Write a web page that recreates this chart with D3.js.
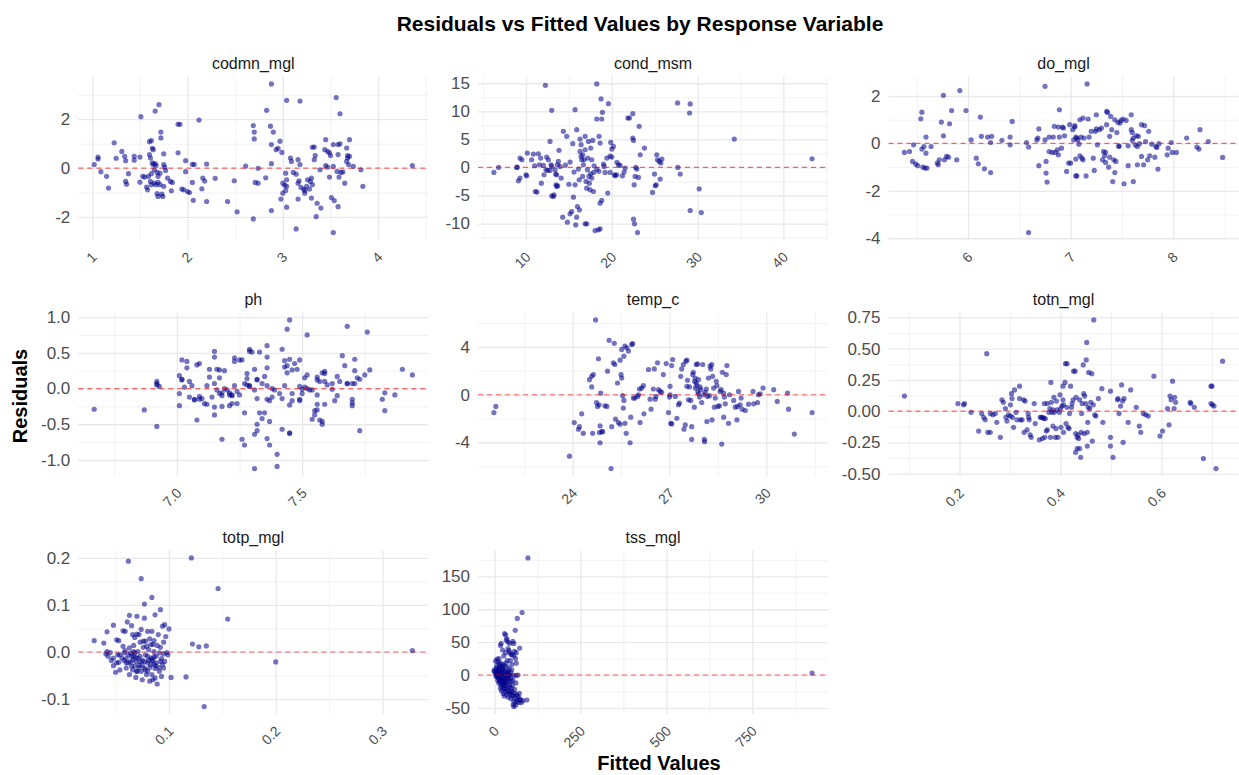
<!DOCTYPE html>
<meta charset="utf-8">
<style>

body {
  margin: 0;
  background: #fff;
}

text {
  font-family: "Liberation Sans", Arial, Helvetica, sans-serif;
}

.grid line {
  stroke: #e9e9e9;
  stroke-width: 1.3;
}

.grid.minor line {
  stroke: #efefef;
  stroke-width: 0.8;
}

.grid path,
.axis path,
.axis line {
  display: none;
}

.axis text {
  fill: #4d4d4d;
}

</style>

<body>

<script src="https://d3js.org/d3.v7.min.js"></script>

<script>

// residuals vs fitted, one [fitted, residual] pair per sample

var codmn_mgl = [[1.02,0.14],[1.06,0.37],[1.06,0.45],[1.09,-0.15],[1.15,-0.34],[1.17,-0.82],[1.23,1.03],[1.25,0.40],[1.31,0.68],[1.34,0.48],[1.35,0.30],[1.38,-0.23],[1.35,-0.55],[1.36,-0.66],[1.44,0.48],[1.44,0.32],[1.50,0.45],[1.51,2.10],[1.50,-0.58],[1.53,-0.34],[1.55,-0.37],[1.57,-0.78],[1.58,-0.89],[1.60,1.08],[1.62,1.12],[1.66,2.33],[1.70,2.59],[1.72,1.47],[1.72,1.23],[1.63,0.81],[1.64,0.75],[1.75,0.58],[1.60,0.55],[1.61,0.41],[1.63,0.21],[1.64,0.14],[1.66,0.18],[1.67,0.10],[1.65,-0.07],[1.68,-0.18],[1.62,-0.23],[1.59,-0.34],[1.69,-0.34],[1.71,-0.21],[1.75,0.14],[1.76,0.04],[1.77,-0.10],[1.61,-0.55],[1.62,-0.68],[1.65,-0.62],[1.67,-0.68],[1.69,-0.59],[1.71,-0.68],[1.75,-0.75],[1.68,-1.05],[1.69,-1.16],[1.73,-1.07],[1.74,-1.16],[1.79,-0.41],[1.82,-0.55],[1.84,-0.59],[1.83,-0.93],[1.90,1.79],[1.92,1.79],[1.90,0.62],[1.94,-0.86],[1.96,-0.89],[2.00,-0.96],[2.02,-1.00],[1.98,0.30],[1.98,-0.15],[2.05,-0.59],[2.05,0.15],[2.07,0.14],[2.06,-1.32],[2.12,1.96],[2.16,-0.41],[2.18,-0.53],[2.15,-0.85],[2.20,-1.37],[2.20,0.16],[2.29,-0.42],[2.42,-1.37],[2.49,-0.52],[2.52,-1.79],[2.61,0.08],[2.69,1.74],[2.70,1.47],[2.70,1.19],[2.69,-2.08],[2.71,-0.59],[2.74,-0.62],[2.74,-0.01],[2.83,2.36],[2.88,3.44],[2.87,1.71],[2.90,1.47],[2.88,0.96],[2.88,0.18],[2.88,-1.74],[2.82,-0.40],[2.93,0.75],[2.95,0.81],[2.97,1.10],[2.99,0.64],[3.04,2.77],[2.98,-1.27],[3.00,-1.03],[3.00,-0.62],[3.02,-0.70],[3.03,-0.92],[3.04,-0.75],[3.03,-0.21],[3.04,-0.48],[3.04,-1.60],[3.08,0.41],[3.09,0.27],[3.11,-0.18],[3.14,-0.25],[3.14,-2.49],[3.16,0.34],[3.18,0.14],[3.17,-0.52],[3.16,-0.62],[3.18,2.74],[3.16,-1.27],[3.19,-0.79],[3.22,-0.86],[3.23,-0.92],[3.23,-1.03],[3.25,-0.75],[3.26,-0.48],[3.30,-0.41],[3.29,-0.55],[3.31,-0.68],[3.28,-0.86],[3.31,0.85],[3.33,0.86],[3.33,0.34],[3.34,0.51],[3.30,-1.23],[3.36,-1.44],[3.35,-1.99],[3.40,-1.64],[3.39,-0.07],[3.44,0.75],[3.45,1.16],[3.47,0.68],[3.49,0.62],[3.50,0.51],[3.45,0.10],[3.47,0.04],[3.49,-0.37],[3.53,0.07],[3.51,-1.21],[3.54,-1.33],[3.58,-1.58],[3.53,-2.64],[3.56,2.88],[3.60,2.22],[3.58,0.96],[3.60,0.99],[3.53,0.96],[3.58,0.55],[3.57,-0.14],[3.59,-0.37],[3.61,-0.18],[3.63,-0.16],[3.65,-0.62],[3.67,0.82],[3.68,0.51],[3.68,0.41],[3.70,0.48],[3.67,0.27],[3.69,0.14],[3.70,1.16],[3.74,0.07],[3.82,-0.07],[3.84,-0.75],[4.36,0.10]]

var cond_msm = [[6.26,-0.89],[6.81,0.0],[8.91,0.0],[8.98,0.05],[9.11,-2.38],[9.30,-1.90],[9.30,1.67],[9.53,1.37],[10.0,-1.31],[10.08,-1.49],[10.16,2.56],[10.66,1.37],[10.86,2.38],[11.09,-4.29],[11.28,-4.40],[11.44,2.44],[11.56,0.48],[11.71,1.67],[11.79,-2.80],[12.02,0.36],[12.10,-1.31],[12.26,14.64],[12.41,1.85],[12.53,-0.54],[12.61,1.37],[12.80,4.64],[12.92,0.48],[13.00,10.18],[13.00,-5.06],[13.19,-5.18],[13.27,-4.88],[13.39,-0.42],[13.46,-1.19],[13.58,-1.31],[13.50,-3.10],[13.58,-3.39],[13.70,-3.27],[13.66,0.48],[13.77,1.07],[13.85,3.04],[13.97,0.18],[13.00,0.18],[12.80,-0.54],[12.33,-0.42],[14.36,6.43],[14.75,5.54],[14.82,-9.76],[14.28,-8.87],[15.14,-8.27],[15.14,0.95],[15.33,-7.86],[15.45,4.23],[15.53,-5.30],[15.60,-0.83],[15.72,-3.10],[15.72,10.30],[15.91,6.73],[16.0,-6.96],[15.91,-8.87],[15.80,-10.24],[16.11,-0.30],[16.23,-7.56],[16.30,5.06],[16.42,4.05],[16.30,2.86],[16.42,1.96],[16.50,1.37],[16.61,2.26],[16.69,0.48],[16.77,1.37],[16.89,5.54],[16.89,3.15],[16.89,-10.06],[17.08,-10.06],[17.00,-2.50],[17.08,-3.69],[17.16,-0.42],[17.20,1.67],[17.28,4.64],[17.35,-1.61],[17.39,-2.80],[17.47,-3.99],[17.55,3.45],[17.55,-1.13],[17.67,-1.90],[17.67,1.37],[17.78,4.82],[17.86,-4.29],[17.94,0.30],[18.05,-11.25],[18.25,-0.30],[18.25,8.63],[18.25,14.88],[18.44,-11.13],[18.52,5.54],[18.64,-10.95],[18.64,4.35],[18.75,12.20],[18.83,8.63],[18.64,-6.37],[18.83,-5.89],[18.91,9.82],[19.03,0.60],[19.11,0.18],[19.22,-0.89],[19.42,1.67],[19.53,-4.58],[19.61,11.37],[19.81,-0.89],[19.88,4.46],[20.0,1.85],[20.0,3.27],[20.19,3.75],[20.31,-1.31],[20.39,-1.49],[20.58,-1.31],[20.78,0.48],[20.97,0.36],[21.24,-1.49],[21.44,-0.83],[21.56,-0.12],[21.87,8.81],[22.06,8.81],[22.45,9.58],[22.45,5.24],[22.53,4.82],[22.53,-9.23],[22.61,-3.10],[22.65,-10.06],[22.72,-1.61],[22.80,0.0],[22.92,-0.30],[23.00,-11.61],[23.11,-1.79],[23.19,7.32],[23.31,2.26],[23.81,3.45],[24.75,-4.46],[24.98,-1.19],[25.06,-3.27],[25.18,-3.10],[25.25,2.26],[25.33,1.37],[25.53,1.07],[25.64,-2.08],[25.72,0.77],[25.84,1.49],[27.67,11.49],[27.70,0.0],[27.98,-1.19],[29.07,9.70],[29.14,11.31],[29.14,-7.68],[30.19,-3.81],[30.43,-8.04],[34.28,5.06],[43.35,1.55],[14.1,-1.9],[16.2,-2.2],[17.9,-0.9],[18.5,-0.7],[19.8,2.0],[20.6,0.9],[16.6,-1.6],[15.0,-3.0],[14.6,0.4],[11.0,0.3]]

var do_mgl = [[5.38,-0.38],[5.43,-0.34],[5.47,-0.06],[5.46,-0.76],[5.49,-0.87],[5.51,-0.94],[5.55,1.32],[5.54,1.04],[5.55,-0.24],[5.56,-1.00],[5.57,-0.13],[5.58,-1.04],[5.59,0.27],[5.60,-1.04],[5.59,-0.41],[5.64,-0.13],[5.70,-0.83],[5.71,-0.90],[5.72,-0.69],[5.74,0.90],[5.76,0.32],[5.76,2.03],[5.77,-0.69],[5.79,-0.55],[5.81,-0.58],[5.82,0.83],[5.84,1.39],[5.89,-0.69],[5.92,2.23],[5.98,1.39],[6.03,0.15],[6.08,-0.62],[6.10,-0.86],[6.12,1.11],[6.13,0.30],[6.16,-1.07],[6.19,0.27],[6.22,-1.23],[6.22,0.04],[6.23,0.30],[6.33,0.13],[6.41,-0.06],[6.41,0.27],[6.43,0.93],[6.57,0.04],[6.59,-0.15],[6.59,-3.76],[6.67,0.15],[6.68,0.23],[6.69,0.61],[6.69,-0.94],[6.75,2.41],[6.75,0.15],[6.76,-0.76],[6.76,-1.25],[6.77,-1.63],[6.79,0.27],[6.79,-0.34],[6.82,-0.38],[6.83,0.27],[6.84,0.72],[6.85,-0.38],[6.87,-0.27],[6.88,0.69],[6.88,-0.48],[6.89,1.42],[6.89,0.27],[6.91,-0.20],[6.92,0.69],[6.93,0.65],[6.94,0.32],[6.96,-1.18],[6.98,-0.83],[6.99,0.79],[7.00,-0.83],[7.02,0.58],[7.03,0.15],[7.04,0.75],[7.04,0.69],[7.05,0.27],[7.05,-0.66],[7.05,-1.37],[7.06,-1.37],[7.06,0.23],[7.07,0.15],[7.08,-0.03],[7.09,1.00],[7.09,-0.52],[7.10,0.27],[7.11,-0.62],[7.12,-0.69],[7.12,1.07],[7.13,0.23],[7.15,-1.37],[7.16,2.51],[7.17,1.03],[7.18,0.27],[7.20,0.51],[7.22,-0.62],[7.23,-1.14],[7.24,0.51],[7.25,1.21],[7.25,0.61],[7.26,-0.06],[7.28,0.58],[7.30,0.65],[7.31,-0.69],[7.32,-0.34],[7.33,-0.52],[7.34,-0.38],[7.34,-0.80],[7.35,1.35],[7.35,0.79],[7.36,1.31],[7.37,-1.00],[7.38,0.30],[7.38,-0.58],[7.39,1.14],[7.40,0.58],[7.41,-1.61],[7.42,-0.69],[7.43,1.00],[7.43,-1.23],[7.44,-0.76],[7.45,0.46],[7.46,0.89],[7.47,-0.13],[7.47,-0.10],[7.48,0.86],[7.49,0.97],[7.51,1.03],[7.52,-1.70],[7.54,0.97],[7.56,-0.94],[7.56,-0.10],[7.59,1.21],[7.59,0.58],[7.60,0.46],[7.60,0.13],[7.61,-1.61],[7.61,0.23],[7.63,-0.06],[7.64,0.32],[7.65,-0.13],[7.65,-0.90],[7.66,0.30],[7.67,-0.01],[7.69,0.79],[7.69,-0.55],[7.71,-0.90],[7.72,0.75],[7.73,0.08],[7.75,-0.69],[7.76,0.51],[7.77,-0.52],[7.79,-0.03],[7.82,-0.58],[7.83,-0.13],[7.84,-0.17],[7.85,-1.08],[7.86,-0.01],[7.94,-0.48],[7.95,-0.20],[7.98,0.04],[7.99,-0.38],[8.03,-0.38],[8.13,0.23],[8.23,-0.15],[8.25,-0.24],[8.26,0.58],[8.34,0.08],[8.48,-0.59]]

var ph = [[6.67,-0.29],[6.87,-0.30],[6.92,-0.53],[6.92,0.10],[6.92,0.07],[6.93,0.03],[6.92,0.05],[7.01,-0.07],[7.01,-0.24],[7.01,0.18],[7.02,0.13],[7.02,0.40],[7.02,0.12],[7.03,0.02],[7.04,0.38],[7.04,0.29],[7.05,0.10],[7.05,-0.12],[7.06,0.04],[7.07,-0.16],[7.07,-0.15],[7.08,0.33],[7.08,-0.44],[7.09,-0.15],[7.09,0.35],[7.09,-0.11],[7.10,-0.14],[7.11,-0.21],[7.12,0.04],[7.12,-0.22],[7.13,0.27],[7.13,0.16],[7.14,-0.12],[7.15,0.44],[7.15,-0.37],[7.15,-0.26],[7.15,0.52],[7.15,0.07],[7.16,-0.02],[7.16,0.27],[7.17,0.15],[7.17,0.26],[7.17,-0.07],[7.18,-0.10],[7.18,-0.06],[7.18,-0.71],[7.18,-0.25],[7.19,0.25],[7.19,0.00],[7.20,-0.02],[7.21,-0.09],[7.21,-0.24],[7.21,-0.06],[7.22,-0.09],[7.22,-0.10],[7.22,-0.21],[7.23,0.43],[7.23,0.38],[7.23,0.04],[7.24,-0.21],[7.24,-0.04],[7.25,-0.09],[7.25,0.40],[7.26,0.40],[7.26,-0.71],[7.27,-0.34],[7.27,-0.79],[7.27,0.07],[7.28,0.05],[7.28,0.21],[7.28,0.14],[7.29,0.04],[7.29,0.55],[7.29,0.03],[7.29,0.52],[7.30,0.51],[7.31,-0.64],[7.31,-1.12],[7.31,0.27],[7.31,-0.02],[7.32,0.12],[7.32,-0.59],[7.32,-0.14],[7.32,-0.50],[7.32,0.13],[7.33,0.51],[7.33,-0.34],[7.34,0.07],[7.34,-0.42],[7.35,0.17],[7.35,-0.34],[7.36,0.44],[7.36,0.04],[7.36,0.60],[7.36,0.29],[7.36,-0.70],[7.36,-0.15],[7.37,-0.17],[7.37,-0.46],[7.37,-0.79],[7.38,0.00],[7.38,-0.12],[7.39,-0.02],[7.40,-0.92],[7.40,-1.09],[7.41,-0.07],[7.42,0.55],[7.42,-0.57],[7.42,-0.14],[7.43,0.04],[7.43,0.30],[7.43,0.39],[7.44,0.22],[7.44,0.83],[7.44,0.32],[7.45,-0.23],[7.45,-0.62],[7.45,0.41],[7.45,-0.63],[7.45,0.96],[7.46,-0.07],[7.46,0.26],[7.46,-0.17],[7.47,0.35],[7.48,0.27],[7.49,-0.15],[7.49,0.03],[7.49,0.40],[7.49,-0.17],[7.50,-0.01],[7.50,-0.07],[7.51,0.15],[7.51,0.02],[7.52,0.75],[7.52,0.00],[7.52,0.19],[7.53,-0.02],[7.54,-0.43],[7.54,-0.02],[7.55,-0.37],[7.55,-0.31],[7.56,-0.09],[7.56,0.16],[7.56,0.12],[7.56,-0.22],[7.56,-0.30],[7.57,-0.44],[7.57,0.10],[7.58,-0.46],[7.58,-0.50],[7.58,0.22],[7.59,0.21],[7.59,0.24],[7.59,-0.22],[7.59,0.10],[7.60,0.05],[7.62,-0.01],[7.62,0.07],[7.63,-0.17],[7.64,0.17],[7.64,-0.10],[7.65,0.10],[7.66,0.46],[7.67,0.32],[7.68,0.07],[7.68,0.07],[7.68,0.87],[7.70,-0.15],[7.70,-0.24],[7.70,-0.20],[7.70,0.07],[7.71,0.07],[7.71,0.25],[7.71,0.41],[7.72,0.15],[7.73,-0.59],[7.73,0.13],[7.75,0.19],[7.76,0.79],[7.77,0.26],[7.82,-0.15],[7.83,-0.31],[7.83,-0.06],[7.87,-0.09],[7.90,0.27],[7.94,0.19]]

var temp_c = [[21.56,-1.49],[21.62,-0.98],[23.90,-5.14],[24.05,-2.33],[24.18,-2.89],[24.21,-2.67],[24.28,-1.60],[24.33,-3.23],[24.52,1.26],[24.59,1.54],[24.59,0.65],[24.62,-3.23],[24.64,1.69],[24.71,6.26],[24.74,-0.65],[24.77,-0.98],[24.80,3.01],[24.82,-0.84],[24.83,-3.17],[24.85,-4.02],[24.85,-2.61],[24.87,0.14],[24.90,-3.09],[24.93,-3.09],[25.00,-0.93],[25.06,-0.98],[25.08,1.97],[25.13,4.55],[25.19,-6.18],[25.21,-2.67],[25.26,2.67],[25.29,4.30],[25.31,2.53],[25.33,-2.05],[25.39,0.98],[25.42,-2.33],[25.47,2.89],[25.47,-2.47],[25.50,1.69],[25.52,1.40],[25.52,3.79],[25.55,-0.08],[25.57,-1.12],[25.59,3.23],[25.59,-0.48],[25.62,4.07],[25.62,-2.39],[25.66,-3.23],[25.68,3.93],[25.73,3.65],[25.78,-4.02],[25.80,-1.88],[25.83,4.21],[25.86,4.27],[25.88,-0.28],[25.93,-0.28],[26.01,-0.14],[26.04,0.00],[26.07,0.48],[26.09,-2.33],[26.14,0.56],[26.19,0.76],[26.21,-1.60],[26.35,2.11],[26.40,-0.37],[26.43,-1.21],[26.50,0.48],[26.53,2.16],[26.56,-0.37],[26.58,-0.14],[26.63,2.67],[26.66,0.42],[26.71,0.28],[26.76,0.20],[26.81,1.69],[26.90,2.61],[26.97,-1.49],[27.00,-0.20],[27.02,0.00],[27.02,0.70],[27.04,-2.39],[27.07,-2.44],[27.07,2.44],[27.10,2.95],[27.18,-0.14],[27.23,-1.97],[27.28,-0.84],[27.31,-0.70],[27.35,1.54],[27.38,2.16],[27.43,2.53],[27.45,-2.89],[27.49,-2.53],[27.51,2.81],[27.54,2.89],[27.54,0.70],[27.56,1.21],[27.59,-0.42],[27.62,0.65],[27.66,-0.48],[27.69,-3.74],[27.69,-2.67],[27.72,1.69],[27.74,1.88],[27.77,-1.04],[27.78,1.12],[27.80,0.56],[27.80,1.40],[27.83,0.98],[27.83,2.53],[27.85,0.76],[27.87,2.58],[27.88,0.28],[27.90,0.08],[27.90,1.26],[27.93,-0.20],[27.95,0.65],[27.97,0.42],[28.00,-0.65],[28.03,2.53],[28.06,0.00],[28.08,-3.74],[28.09,-3.93],[28.11,0.20],[28.14,0.48],[28.16,-2.25],[28.18,-0.14],[28.21,1.40],[28.24,-0.08],[28.26,2.39],[28.28,2.16],[28.31,2.53],[28.32,-2.11],[28.34,1.54],[28.37,0.56],[28.39,-1.04],[28.42,-0.28],[28.45,1.12],[28.47,0.76],[28.50,-0.98],[28.55,-0.93],[28.57,0.28],[28.60,0.42],[28.62,-4.13],[28.64,1.88],[28.68,0.14],[28.68,-1.88],[28.70,-0.20],[28.73,-0.76],[28.76,1.69],[28.78,2.44],[28.83,-2.39],[28.86,0.00],[28.99,-0.48],[29.04,-1.04],[29.09,-2.11],[29.11,-0.98],[29.14,0.28],[29.19,-0.84],[29.22,-0.28],[29.25,-1.21],[29.35,-1.32],[29.45,-0.79],[29.59,0.28],[29.61,-0.76],[29.73,-0.65],[29.76,0.00],[29.81,0.08],[29.90,0.56],[30.23,0.42],[30.34,-0.56],[30.66,0.14],[30.69,-1.21],[30.87,-3.29],[31.42,-1.49]]

var totn_mgl = [[0.091,0.12],[0.197,0.06],[0.208,0.05],[0.210,0.06],[0.223,-0.01],[0.238,-0.16],[0.244,-0.02],[0.248,-0.05],[0.251,-0.07],[0.254,0.46],[0.256,-0.17],[0.261,-0.17],[0.261,-0.02],[0.266,-0.03],[0.271,-0.02],[0.274,-0.09],[0.281,-0.21],[0.284,0.09],[0.287,0.07],[0.291,0.02],[0.292,-0.05],[0.294,-0.08],[0.297,-0.03],[0.301,0.05],[0.301,-0.04],[0.303,0.14],[0.304,0.10],[0.305,-0.05],[0.307,-0.13],[0.309,0.17],[0.312,-0.01],[0.314,-0.07],[0.319,0.20],[0.319,0.10],[0.321,-0.07],[0.324,-0.07],[0.327,0.09],[0.328,-0.17],[0.330,0.08],[0.334,-0.15],[0.336,-0.02],[0.337,-0.05],[0.338,-0.07],[0.340,-0.19],[0.342,-0.21],[0.348,0.06],[0.350,-0.10],[0.358,-0.23],[0.360,-0.05],[0.362,-0.05],[0.364,-0.22],[0.365,-0.05],[0.367,-0.06],[0.368,0.06],[0.369,-0.21],[0.370,-0.06],[0.372,-0.16],[0.374,0.06],[0.374,-0.15],[0.377,-0.01],[0.379,0.02],[0.380,-0.21],[0.381,0.23],[0.382,0.07],[0.383,-0.01],[0.385,0.01],[0.385,-0.12],[0.387,0.11],[0.388,-0.01],[0.390,-0.21],[0.391,-0.14],[0.392,0.08],[0.393,0.01],[0.395,-0.21],[0.398,-0.01],[0.399,0.13],[0.400,0.02],[0.401,-0.13],[0.403,0.04],[0.405,0.20],[0.405,0.09],[0.406,0.05],[0.406,-0.17],[0.409,0.23],[0.410,0.38],[0.411,-0.10],[0.413,0.38],[0.413,0.03],[0.415,-0.13],[0.417,-0.14],[0.418,-0.02],[0.420,0.20],[0.422,0.03],[0.423,0.06],[0.425,0.09],[0.426,0.32],[0.429,0.32],[0.430,-0.18],[0.430,-0.33],[0.431,0.11],[0.433,-0.21],[0.433,-0.30],[0.435,-0.19],[0.436,-0.22],[0.438,0.09],[0.438,-0.30],[0.440,-0.37],[0.441,-0.17],[0.442,-0.02],[0.443,0.06],[0.445,0.37],[0.446,0.14],[0.447,-0.18],[0.448,0.12],[0.450,0.06],[0.451,0.41],[0.452,0.55],[0.453,-0.17],[0.453,-0.28],[0.454,-0.09],[0.455,0.03],[0.456,0.31],[0.458,0.02],[0.460,0.07],[0.462,0.30],[0.463,-0.24],[0.465,0.05],[0.466,0.73],[0.468,-0.03],[0.470,-0.04],[0.475,0.10],[0.482,0.18],[0.484,-0.09],[0.499,-0.21],[0.499,0.16],[0.499,-0.28],[0.504,-0.37],[0.513,0.09],[0.514,0.10],[0.516,-0.02],[0.519,0.04],[0.521,0.21],[0.523,0.08],[0.524,-0.25],[0.526,0.10],[0.534,-0.09],[0.539,0.17],[0.550,0.03],[0.556,-0.12],[0.559,-0.17],[0.564,-0.02],[0.569,-0.03],[0.574,-0.04],[0.585,0.28],[0.597,-0.20],[0.602,-0.16],[0.612,0.02],[0.615,-0.11],[0.617,0.12],[0.619,0.09],[0.622,0.24],[0.625,0.02],[0.626,0.11],[0.628,0.07],[0.657,0.07],[0.658,0.06],[0.665,0.03],[0.683,-0.38],[0.698,0.20],[0.700,0.20],[0.698,0.06],[0.701,0.05],[0.704,0.04],[0.708,-0.46],[0.721,0.40]]

var totp_mgl = [[0.030,0.024],[0.039,0.019],[0.042,0.043],[0.041,-0.004],[0.042,0.001],[0.043,-0.009],[0.046,-0.018],[0.048,-0.029],[0.048,0.057],[0.050,-0.043],[0.051,0.026],[0.052,-0.006],[0.053,0.024],[0.053,-0.022],[0.054,-0.038],[0.056,-0.013],[0.057,0.012],[0.057,0.045],[0.058,-0.018],[0.059,0.003],[0.060,-0.034],[0.060,-0.014],[0.061,0.064],[0.062,0.193],[0.062,-0.023],[0.063,0.078],[0.063,-0.048],[0.064,-0.002],[0.064,-0.021],[0.065,0.056],[0.066,-0.038],[0.067,0.014],[0.067,-0.009],[0.068,-0.030],[0.068,0.031],[0.069,-0.054],[0.069,-0.020],[0.070,0.076],[0.070,0.038],[0.070,-0.041],[0.071,0.001],[0.072,-0.028],[0.073,0.021],[0.073,-0.009],[0.074,0.156],[0.074,0.048],[0.075,-0.059],[0.075,-0.018],[0.076,0.010],[0.077,-0.034],[0.077,0.102],[0.077,0.072],[0.078,-0.006],[0.078,0.023],[0.079,-0.048],[0.080,0.044],[0.080,-0.023],[0.081,0.005],[0.082,-0.062],[0.082,-0.033],[0.083,0.016],[0.083,-0.013],[0.084,0.116],[0.084,0.044],[0.085,-0.059],[0.085,-0.018],[0.086,0.001],[0.086,0.024],[0.087,-0.035],[0.087,0.079],[0.088,-0.023],[0.088,-0.009],[0.089,-0.068],[0.089,0.014],[0.090,0.037],[0.091,-0.041],[0.091,-0.002],[0.092,-0.020],[0.092,0.090],[0.093,-0.052],[0.093,-0.014],[0.094,0.055],[0.095,-0.004],[0.095,-0.034],[0.096,0.058],[0.097,0.033],[0.098,-0.001],[0.099,-0.006],[0.100,0.049],[0.102,-0.054],[0.116,-0.053],[0.121,0.200],[0.122,0.017],[0.128,0.011],[0.133,-0.116],[0.135,0.013],[0.146,0.135],[0.155,0.070],[0.200,-0.021],[0.328,0.003],[0.054,-0.006],[0.058,-0.002],[0.062,-0.006],[0.065,-0.009],[0.068,-0.002],[0.071,-0.013],[0.073,-0.020],[0.077,-0.020],[0.080,-0.009],[0.084,-0.016],[0.086,-0.026],[0.088,-0.030],[0.079,0.012],[0.076,0.023],[0.067,0.001],[0.063,0.009],[0.060,-0.023],[0.065,-0.030],[0.070,-0.041],[0.074,-0.041],[0.080,-0.041],[0.084,-0.048],[0.087,-0.055],[0.091,-0.033],[0.094,-0.026],[0.096,-0.020],[0.051,-0.023],[0.048,-0.013],[0.045,-0.001],[0.059,0.044],[0.066,0.037],[0.072,0.037],[0.082,0.028],[0.085,0.016],[0.092,0.010],[0.095,0.021],[0.069,-0.012],[0.075,-0.028],[0.081,-0.018],[0.083,-0.027],[0.066,-0.017],[0.072,-0.033],[0.078,-0.038],[0.086,-0.010]]

var tss_mgl = [[97,178],[80,95],[66,86],[60,68],[39,50],[44,48],[29,63],[32,61],[19,48],[17,45],[36,55],[34,53],[53,51],[56,48],[73,41],[58,36],[63,34],[39,40],[42,37],[44,34],[48,31],[32,34],[51,31],[56,29],[61,25],[63,18],[7,24],[13,25],[3,21],[10,20],[18,18],[24,16],[28,14],[35,12],[42,10],[50,8],[22,10],[15,12],[5,10],[0,8],[-2,6],[2,4],[8,6],[12,3],[16,5],[20,2],[25,4],[30,1],[38,2],[45,0],[55,0],[62,-1],[68,0],[4,-2],[9,-4],[14,-1],[19,-6],[24,-3],[28,-8],[33,-5],[38,-10],[42,-7],[12,-12],[18,-15],[22,-18],[26,-14],[30,-20],[35,-22],[40,-18],[45,-25],[50,-20],[15,-8],[20,-24],[25,-28],[28,-32],[32,-26],[36,-30],[40,-34],[44,-29],[48,-36],[52,-32],[56,-40],[60,-35],[54,-45],[56,-48],[61,-46],[66,-38],[70,-42],[73,-36],[78,-42],[82,-39],[94,-38],[65,-30],[72,-28],[58,-22],[52,-15],[48,-10],[62,-12],[10,-2],[6,0],[22,0],[30,6],[40,5],[46,4],[35,-2],[27,-10],[17,-20],[24,-12],[31,-16],[38,-25],[43,-14],[6,14],[11,9],[14,16],[20,13],[26,8],[33,18],[37,22],[27,29],[23,38],[46,22],[50,16],[9,-8],[13,-5],[17,-11],[21,-9],[26,-21],[29,-15],[34,-12],[39,-4],[44,-19],[47,-27],[51,-26],[55,-31],[59,-28],[63,-41],[68,-33],[76,-38],[3,2],[7,-1],[11,6],[16,-3],[21,7],[26,-5],[31,-8],[36,4],[41,-1],[48,-5],[53,-8],[924,3]]

var panelNames = ["codmn_mgl", "cond_msm", "do_mgl", "ph", "temp_c", "totn_mgl", "totp_mgl", "tss_mgl"]
var panelData = [codmn_mgl, cond_msm, do_mgl, ph, temp_c, totn_mgl, totp_mgl, tss_mgl]

// tick labels as printed on each facet
var xTickLabels = [
  ["1", "2", "3", "4"],
  ["10", "20", "30", "40"],
  ["6", "7", "8"],
  ["7.0", "7.5"],
  ["24", "27", "30"],
  ["0.2", "0.4", "0.6"],
  ["0.1", "0.2", "0.3"],
  ["0", "250", "500", "750"]
]
var yTickLabels = [
  ["-2", "0", "2"],
  ["-10", "-5", "0", "5", "10", "15"],
  ["-4", "-2", "0", "2"],
  ["-1.0", "-0.5", "0.0", "0.5", "1.0"],
  ["-4", "0", "4"],
  ["-0.50", "-0.25", "0.00", "0.25", "0.50", "0.75"],
  ["-0.1", "0.0", "0.1", "0.2"],
  ["-50", "0", "50", "100", "150"]
]

var width = 1239
var height = 775

var colLeft = [78.3, 478, 888.5]
var rowTop = [76.5, 312.5, 550.5]
var panelW = 350
var panelH = 163.5

var svg = d3.select("body").append("svg")
    .attr("width", width)
    .attr("height", height)

// ggplot style limits: data range padded by 5% on both sides
function expanded(values) {
  var ext = d3.extent(values)
  var pad = (ext[1] - ext[0]) * 0.05
  return [ext[0] - pad, ext[1] + pad]
}

// minor breaks sit halfway between the majors
function minorBreaks(major, domain) {
  var step = major[1] - major[0]
  var out = []
  for (var v = major[0] - step / 2; v <= domain[1]; v += step) {
    if (v >= domain[0]) out.push(v)
  }
  return out
}

panelNames.forEach(function(name, i) {
  var data = panelData[i]
  var left = colLeft[i % 3]
  var top = rowTop[Math.floor(i / 3)]

  var xTicks = xTickLabels[i].map(Number)
  var yTicks = yTickLabels[i].map(Number)

  var x = d3.scaleLinear()
      .domain(expanded(data.map(function(d) { return d[0] })))
      .range([0, panelW])

  var y = d3.scaleLinear()
      .domain(expanded(data.map(function(d) { return d[1] })))
      .range([panelH, 0])

  var g = svg.append("g")
      .attr("transform", "translate(" + left + "," + top + ")")

  // grid
  g.append("g")
      .attr("class", "grid minor")
      .attr("transform", "translate(0," + panelH + ")")
      .call(d3.axisBottom(x).tickValues(minorBreaks(xTicks, x.domain())).tickSize(-panelH).tickFormat(""))
  g.append("g")
      .attr("class", "grid minor")
      .call(d3.axisLeft(y).tickValues(minorBreaks(yTicks, y.domain())).tickSize(-panelW).tickFormat(""))
  g.append("g")
      .attr("class", "grid")
      .attr("transform", "translate(0," + panelH + ")")
      .call(d3.axisBottom(x).tickValues(xTicks).tickSize(-panelH).tickFormat(""))
  g.append("g")
      .attr("class", "grid")
      .call(d3.axisLeft(y).tickValues(yTicks).tickSize(-panelW).tickFormat(""))

  // points
  g.append("g")
    .selectAll("circle")
    .data(data)
    .enter().append("circle")
      .attr("cx", function(d) { return x(d[0]) })
      .attr("cy", function(d) { return y(d[1]) })
      .attr("r", 2.6)
      .attr("fill", "#00008b")
      .attr("fill-opacity", 0.55)

  // zero line
  g.append("line")
      .attr("x1", 0)
      .attr("x2", panelW)
      .attr("y1", y(0))
      .attr("y2", y(0))
      .attr("stroke", "#ff0000")
      .attr("stroke-opacity", 0.6)
      .attr("stroke-width", 1.2)
      .attr("stroke-dasharray", "5,4")

  // axes
  g.append("g")
      .attr("class", "axis")
      .call(d3.axisLeft(y).tickValues(yTicks).tickSize(0).tickPadding(8)
        .tickFormat(function(d, k) { return yTickLabels[i][k] }))
    .selectAll("text")
      .style("font-size", "17px")

  g.append("g")
      .attr("class", "axis")
      .attr("transform", "translate(0," + panelH + ")")
      .call(d3.axisBottom(x).tickValues(xTicks).tickSize(0)
        .tickFormat(function(d, k) { return xTickLabels[i][k] }))
    .selectAll("text")
      .attr("y", 0)
      .attr("dy", "0.71em")
      .attr("transform", "translate(-2,11) rotate(-45)")
      .style("text-anchor", "end")
      .style("font-size", "14px")

  // facet strip
  g.append("text")
      .attr("x", panelW / 2)
      .attr("y", -8)
      .attr("text-anchor", "middle")
      .attr("fill", "#1a1a1a")
      .style("font-size", "16px")
      .text(name)
})

svg.append("text")
    .attr("x", 640)
    .attr("y", 31)
    .attr("text-anchor", "middle")
    .style("font-size", "21px")
    .style("font-weight", "bold")
    .text("Residuals vs Fitted Values by Response Variable")

svg.append("text")
    .attr("x", 659)
    .attr("y", 770)
    .attr("text-anchor", "middle")
    .style("font-size", "20px")
    .style("font-weight", "bold")
    .text("Fitted Values")

svg.append("text")
    .attr("transform", "translate(27,396) rotate(-90)")
    .attr("text-anchor", "middle")
    .style("font-size", "20px")
    .style("font-weight", "bold")
    .text("Residuals")

</script>
